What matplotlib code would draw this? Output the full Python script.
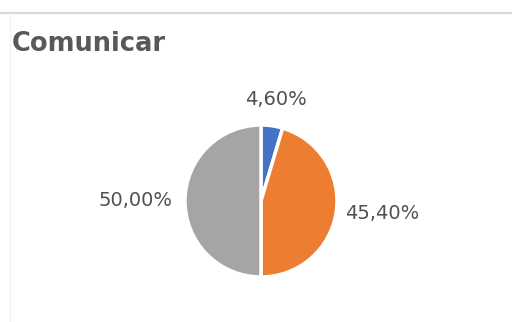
import numpy as np
import matplotlib
matplotlib.use('Agg')
import matplotlib.pyplot as plt
from matplotlib.lines import Line2D

title = 'Comunicar'
shares = [4.60, 45.40, 50.00]
share_labels = ['4,60%', '45,40%', '50,00%']
colors = ['#4472C4', '#ED7D31', '#A5A5A5']

plt.rcParams['font.family'] = ['DejaVu Sans']

W, H = 512, 322
fig = plt.figure(figsize=(W / 100, H / 100), dpi=100)
fig.patch.set_facecolor('white')

# panel border: top rule and faint left edge
fig.add_artist(Line2D([0, 1], [1 - 13 / H, 1 - 13 / H], transform=fig.transFigure,
                      color='#D9D9D9', lw=1.6))
fig.add_artist(Line2D([10 / W, 10 / W], [0, 1 - 14 / H], transform=fig.transFigure,
                      color='#F2F2F2', lw=1.0))

fig.text(12 / W, 1 - 44 / H, title, fontsize=18.5, fontweight='bold',
         color='#595959', va='center', ha='left')

# pie axes: centre (261, 201) px, radius 76 px
cx, cy, r = 261, 201, 76
ax = fig.add_axes([(cx - r) / W, (H - cy - r) / H, 2 * r / W, 2 * r / H])
wedges, _ = ax.pie(shares, colors=colors, startangle=90, counterclock=False,
                   radius=1.0, wedgeprops=dict(edgecolor='white', linewidth=2.5))
ax.set_xlim(-1, 1)
ax.set_ylim(-1, 1)
ax.set_aspect('equal')
ax.axis('off')

# label placement: distance from centre and alignment per slice
label_dist = [1.35, 1.12, 1.17]
label_ha = ['center', 'left', 'right']
for w, txt, d, ha in zip(wedges, share_labels, label_dist, label_ha):
    ang = np.deg2rad((w.theta1 + w.theta2) / 2)
    ax.text(d * np.cos(ang), d * np.sin(ang), txt, ha=ha, va='center',
            fontsize=14, color='#505050', clip_on=False)

fig.savefig('out.png', dpi=100, facecolor='white')
